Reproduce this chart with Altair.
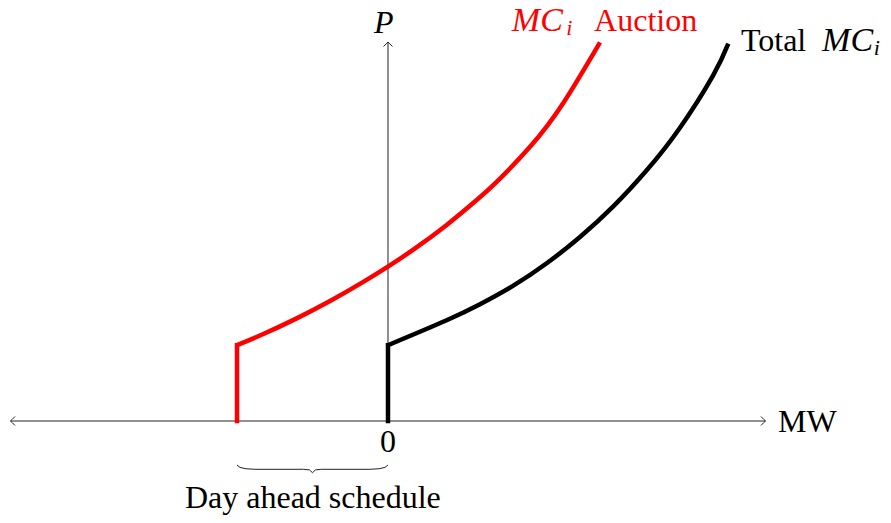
import altair as alt
import pandas as pd

# ---- values (MW on x, price P on y) ----
total_mw = [0.0, 1.555, 2.437, 3.319, 4.204, 5.086, 5.968, 6.853, 7.735, 8.617, 9.015]
total_p = [2.0, 2.657, 3.079, 3.570, 4.161, 4.855, 5.662, 6.615, 7.739, 9.127, 9.958]
auction_mw = [-4.0, -3.303, -2.419, -1.536, -0.654, 0.008, 0.670, 1.555, 2.350,
              2.879, 3.762, 4.644, 5.616]
auction_p = [2.0, 2.294, 2.708, 3.165, 3.670, 4.079, 4.521, 5.174, 5.831,
             6.311, 7.235, 8.393, 9.992]
day_ahead_schedule = 4.0
axis_mw_extent = 10.0
axis_p_extent = 10.0

series_names = ["Total", "Auction"]
series_colors = ["#000000", "#ff0000"]

W, H = 875, 507
xs = alt.Scale(domain=[-10.066, 13.113], nice=False, zero=False)
ys = alt.Scale(domain=[-2.480, 10.897], nice=False, zero=False)
cs = alt.Scale(domain=series_names, range=series_colors)
FONT = "'Liberation Serif', 'Times New Roman', 'DejaVu Serif', serif"

rows = []
for i, (m, p) in enumerate(zip(total_mw, total_p)):
    rows.append({"series": "Total", "mw": m, "p": p, "ord": i})
for i, (m, p) in enumerate(zip(auction_mw, auction_p)):
    rows.append({"series": "Auction", "mw": m, "p": p, "ord": i})
curves = pd.DataFrame(rows)

steps = pd.DataFrame({
    "series": series_names,
    "mw": [total_mw[0], auction_mw[0]],
    "p0": [0.0, 0.0],
    "p1": [total_p[0], auction_p[0]],
})

axes_df = pd.DataFrame({
    "x": [-axis_mw_extent, 0.0],
    "x2": [axis_mw_extent, 0.0],
    "y": [0.0, 0.0],
    "y2": [0.0, axis_p_extent],
})
arrows_df = pd.DataFrame({
    "x": [axis_mw_extent, -axis_mw_extent, 0.0],
    "y": [0.0, 0.0, axis_p_extent],
    "ang": [0, 180, 270],
})

# brace under the day-ahead schedule
bf = [0, 0.02, 0.06, 0.12, 0.44, 0.48, 0.5, 0.52, 0.56, 0.88, 0.94, 0.98, 1]
by = [-1.161, -1.225, -1.260, -1.274, -1.274, -1.290, -1.364, -1.290, -1.274,
      -1.274, -1.260, -1.225, -1.161]
brace_df = pd.DataFrame({
    "x": [-day_ahead_schedule + f * day_ahead_schedule for f in bf],
    "y": by,
    "o": list(range(len(bf))),
})

axes = alt.Chart(axes_df).mark_rule(color="#222222", strokeWidth=1).encode(
    x=alt.X("x:Q", scale=xs, axis=None), x2="x2:Q",
    y=alt.Y("y:Q", scale=ys, axis=None), y2="y2:Q",
)
arrows = alt.Chart(arrows_df).mark_point(
    shape="M -1 -1 Q -0.3 -0.25 0 0 Q -0.3 0.25 -1 1",
    filled=False, size=81, strokeWidth=1, color="#222222", opacity=1,
).encode(
    x=alt.X("x:Q", scale=xs, axis=None),
    y=alt.Y("y:Q", scale=ys, axis=None),
    angle=alt.Angle("ang:Q", scale=None),
)
vert = alt.Chart(steps).mark_rule(strokeWidth=4.5, strokeCap="square").encode(
    x=alt.X("mw:Q", scale=xs, axis=None),
    y=alt.Y("p0:Q", scale=ys, axis=None), y2="p1:Q",
    color=alt.Color("series:N", scale=cs, legend=None),
)
lines = alt.Chart(curves).mark_line(strokeWidth=4.5, interpolate="natural").encode(
    x=alt.X("mw:Q", scale=xs, axis=None),
    y=alt.Y("p:Q", scale=ys, axis=None),
    color=alt.Color("series:N", scale=cs, legend=None),
    detail="series:N",
    order="ord:Q",
)
brace = alt.Chart(brace_df).mark_line(color="#222222", strokeWidth=1).encode(
    x=alt.X("x:Q", scale=xs, axis=None),
    y=alt.Y("y:Q", scale=ys, axis=None),
    order="o:Q",
)


def label(txt, x, y, size=32, style="normal", color="black", align="left"):
    return alt.Chart(pd.DataFrame({"t": [txt], "x": [x], "y": [y]})).mark_text(
        font=FONT, fontSize=size, fontStyle=style, color=color,
        align=align, baseline="alphabetic",
    ).encode(
        x=alt.X("x:Q", scale=xs, axis=None),
        y=alt.Y("y:Q", scale=ys, axis=None),
        text="t:N",
    )


texts = [
    label("P", -0.11, 10.24, style="italic", align="center"),
    label("MW", 10.33, -0.29),
    label("0", 0.0, -0.82, align="center"),
    label("Day ahead schedule", -1.99, -2.30, align="center"),
    label("MC", 3.28, 10.30, size=34, style="italic", color="#ff0000"),
    label("i", 4.72, 10.18, size=22, style="italic", color="#ff0000"),
    label("Auction", 5.46, 10.30, color="#ff0000"),
    label("Total", 9.35, 9.77),
    label("MC", 11.50, 9.77, size=34, style="italic"),
    label("i", 12.87, 9.65, size=22, style="italic"),
]

chart = alt.layer(axes, arrows, brace, vert, lines, *texts).properties(
    width=W, height=H,
    autosize=alt.AutoSizeParams(type="none"),
    padding=0,
    background="white",
).configure_view(stroke=None)

chart.save("out.html", embed_options={"renderer": "svg", "actions": False})
